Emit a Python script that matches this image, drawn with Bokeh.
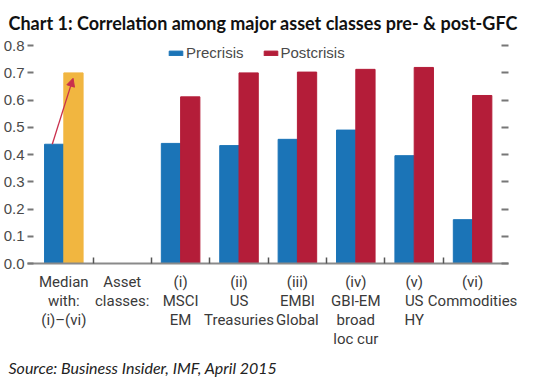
from bokeh.plotting import figure
from bokeh.models import (Range1d, FixedTicker, LinearAxis, Legend, LegendItem,
                          Arrow, NormalHead, Title, ColumnDataSource)
from bokeh.transform import dodge
from bokeh.embed import file_html
from bokeh.resources import INLINE

# ---- data ----
median_label = "Median\nwith:\n(i)\u2013(vi)"
spacer_label = "Asset\nclasses:"
asset_labels = ["(i)\nMSCI\nEM", "(ii)\nUS\nTreasuries", "(iii)\nEMBI\nGlobal",
                "(iv)\nGBI-EM\nbroad\nloc cur", "(v)\nUS\nHY", "(vi)\nCommodities"]
median_pre = 0.438
median_post = 0.70
precrisis = [0.441, 0.433, 0.456, 0.490, 0.396, 0.161]
postcrisis = [0.612, 0.700, 0.703, 0.713, 0.720, 0.617]
y_ticks = [0.0, 0.1, 0.2, 0.3, 0.4, 0.5, 0.6, 0.7, 0.8]

BLUE = "#1b74b7"
RED = "#b41d39"
YELLOW = "#f1b640"
TXT = "#3a3a3a"

labels = [median_label, spacer_label] + asset_labels
centers = list(range(len(labels)))
asset_x = centers[2:]
bw = 0.33

p = figure(width=534, height=382, output_backend="svg", toolbar_location=None,
           x_range=Range1d(-0.622, 7.615), y_range=Range1d(0, 0.83),
           min_border_left=22, min_border_right=26, min_border_top=37,
           min_border_bottom=118)
p.outline_line_color = None
p.xgrid.visible = False
p.ygrid.visible = False

src = ColumnDataSource(dict(x=asset_x, pre=precrisis, post=postcrisis))
p.vbar(x=[centers[0] - bw / 2], top=[median_pre], width=bw, color=BLUE)
p.vbar(x=[centers[0] + bw / 2], top=[median_post], width=bw, color=YELLOW)
r_pre = p.vbar(x=dodge("x", -bw / 2), top="pre", width=bw, color=BLUE, source=src)
r_post = p.vbar(x=dodge("x", bw / 2), top="post", width=bw, color=RED, source=src)

# arrow from median pre to median post
p.add_layout(Arrow(end=NormalHead(size=8, fill_color="#c9304d", line_color="#c9304d"),
                   x_start=centers[0] - bw * 0.6, y_start=median_pre,
                   x_end=centers[0] + bw * 0.48, y_end=median_post - 0.02,
                   line_color="#c9304d", line_width=1.3))

# x axis
xa = p.xaxis[0]
xa.ticker = FixedTicker(ticks=centers, minor_ticks=[c + 0.5 for c in centers[:-1]])
xa.major_label_overrides = {c: l for c, l in zip(centers, labels)}
xa.major_tick_in = 0
xa.major_tick_out = 0
xa.minor_tick_in = 6
xa.minor_tick_out = 0
xa.minor_tick_line_color = "#555555"
xa.minor_tick_line_width = 1.5
xa.axis_line_color = "#8a8a8a"
xa.axis_line_width = 2
xa.major_label_standoff = 9
xa.major_label_text_font = "Roboto"
xa.major_label_text_font_size = "15px"
xa.major_label_text_line_height = 1.06
xa.major_label_text_color = TXT

# y axis left
ya = p.yaxis[0]
ya.ticker = FixedTicker(ticks=y_ticks)
ya.axis_line_color = None
ya.major_tick_in = 6
ya.major_tick_out = 0
ya.major_tick_line_color = "#777777"
ya.major_tick_line_width = 2
ya.minor_tick_line_color = None
ya.major_label_standoff = 3
ya.major_label_text_font = "Liberation Sans"
ya.major_label_text_font_size = "15px"
ya.major_label_text_color = "#4a4a4a"
ya.major_label_overrides = {t: f"{t:.1f}" for t in y_ticks}

# y axis right (ticks only)
ra = LinearAxis(ticker=FixedTicker(ticks=y_ticks))
ra.axis_line_color = None
ra.major_tick_in = 7
ra.major_tick_out = 0
ra.major_tick_line_color = "#777777"
ra.major_tick_line_width = 2
ra.minor_tick_line_color = None
ra.major_label_overrides = {t: "" for t in y_ticks}
ra.major_label_standoff = 0
p.add_layout(ra, "right")

# legend
legend = Legend(items=[LegendItem(label="Precrisis", renderers=[r_pre]),
                       LegendItem(label="Postcrisis", renderers=[r_post])],
                orientation="horizontal", location=(140, 202),
                glyph_width=17, glyph_height=6, label_standoff=2, spacing=18,
                padding=2, margin=0, border_line_color=None,
                background_fill_alpha=0,
                label_text_font="Liberation Sans", label_text_font_size="15px",
                label_text_color="#4a4a4a", label_height=16)
p.add_layout(legend, "center")

# titles
p.add_layout(Title(text="Source:  Business Insider, IMF, April 2015", align="left",
                   offset=-19, text_font="Lato", text_font_style="italic",
                   text_font_size="16px", text_color="#222222", standoff=11), "below")
p.add_layout(Title(text="Chart 1:  Correlation among major asset classes pre- & post-GFC",
                   align="left", offset=-19, text_font="Lato", text_font_style="bold",
                   text_font_size="18px", text_color="#111111", standoff=8), "above")

open("out.html", "w").write(file_html(p, INLINE))
